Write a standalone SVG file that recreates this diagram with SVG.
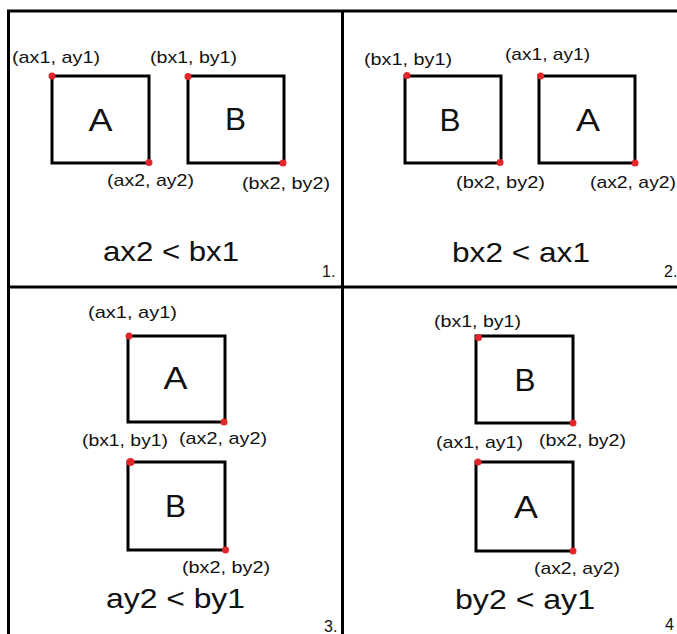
<svg xmlns="http://www.w3.org/2000/svg" width="677" height="634" viewBox="0 0 677 634">
<style>
.grid{stroke:#000;stroke-width:3;fill:none}
.box{stroke:#000;stroke-width:3;fill:none}
.dot{fill:#e3262b}
text{font-family:"Liberation Sans",Arial,sans-serif;fill:#111}
.lbl{font-size:17px}
.big{font-size:28px}
.let{font-size:31px;text-anchor:middle}
.num{font-size:16px}
</style>
<rect width="677" height="634" fill="#fff"/>
<g id="grid">
<line class="grid" x1="7" y1="11" x2="677" y2="11"/>
<line class="grid" x1="8.5" y1="10" x2="8.5" y2="634"/>
<line class="grid" x1="7" y1="287" x2="677" y2="287"/>
<line class="grid" x1="342.5" y1="10" x2="342.5" y2="634"/>
</g>
<g id="connectors"></g>

<!-- Panel 1 -->
<g id="p1-A">
<rect class="box" x="52" y="76" width="97" height="87"/>
<text class="let" x="100.5" y="131" textLength="24" lengthAdjust="spacingAndGlyphs">A</text>
<circle class="dot" cx="52" cy="76" r="3.5"/><circle class="dot" cx="149" cy="162.5" r="3.5"/>
<text class="lbl" x="12" y="63" textLength="88" lengthAdjust="spacingAndGlyphs">(ax1, ay1)</text>
<text class="lbl" x="107" y="186" textLength="87" lengthAdjust="spacingAndGlyphs">(ax2, ay2)</text>
</g>
<g id="p1-B">
<rect class="box" x="188" y="76" width="96" height="87"/>
<text class="let" x="235.5" y="130" textLength="21" lengthAdjust="spacingAndGlyphs">B</text>
<circle class="dot" cx="188" cy="76.5" r="3.5"/><circle class="dot" cx="283" cy="163" r="3.5"/>
<text class="lbl" x="150" y="63" textLength="87" lengthAdjust="spacingAndGlyphs">(bx1, by1)</text>
<text class="lbl" x="242" y="189" textLength="88" lengthAdjust="spacingAndGlyphs">(bx2, by2)</text>
</g>
<g id="p1-caption">
<text class="big" x="103" y="261" textLength="136" lengthAdjust="spacingAndGlyphs">ax2 &lt; bx1</text>
<text class="num" x="322" y="277">1.</text>
</g>

<!-- Panel 2 -->
<g id="p2-B">
<rect class="box" x="405" y="76" width="96" height="87"/>
<text class="let" x="450" y="131" textLength="21" lengthAdjust="spacingAndGlyphs">B</text>
<circle class="dot" cx="407" cy="75.5" r="3.5"/><circle class="dot" cx="500" cy="162.5" r="3.5"/>
<text class="lbl" x="364" y="65" textLength="88" lengthAdjust="spacingAndGlyphs">(bx1, by1)</text>
<text class="lbl" x="456" y="188" textLength="89" lengthAdjust="spacingAndGlyphs">(bx2, by2)</text>
</g>
<g id="p2-A">
<rect class="box" x="539" y="76" width="96" height="87"/>
<text class="let" x="588" y="131" textLength="24" lengthAdjust="spacingAndGlyphs">A</text>
<circle class="dot" cx="540.5" cy="76" r="3.5"/><circle class="dot" cx="635" cy="163" r="3.5"/>
<text class="lbl" x="505" y="60" textLength="85" lengthAdjust="spacingAndGlyphs">(ax1, ay1)</text>
<text class="lbl" x="590" y="188" textLength="86" lengthAdjust="spacingAndGlyphs">(ax2, ay2)</text>
</g>
<g id="p2-caption">
<text class="big" x="452" y="262" textLength="138" lengthAdjust="spacingAndGlyphs">bx2 &lt; ax1</text>
<text class="num" x="664" y="277">2.</text>
</g>

<!-- Panel 3 -->
<g id="p3-A">
<rect class="box" x="128" y="336" width="97" height="86"/>
<text class="let" x="175.5" y="389" textLength="24" lengthAdjust="spacingAndGlyphs">A</text>
<circle class="dot" cx="129" cy="336" r="3.5"/><circle class="dot" cx="224" cy="422" r="3.5"/>
<text class="lbl" x="88" y="318" textLength="89" lengthAdjust="spacingAndGlyphs">(ax1, ay1)</text>
<text class="lbl" x="179" y="444" textLength="88" lengthAdjust="spacingAndGlyphs">(ax2, ay2)</text>
</g>
<g id="p3-B">
<rect class="box" x="128" y="462" width="97" height="88"/>
<text class="let" x="175.5" y="517" textLength="21" lengthAdjust="spacingAndGlyphs">B</text>
<circle class="dot" cx="130.5" cy="462" r="4"/><circle class="dot" cx="225.5" cy="550" r="3.5"/>
<text class="lbl" x="82" y="446" textLength="86" lengthAdjust="spacingAndGlyphs">(bx1, by1)</text>
<text class="lbl" x="182" y="573" textLength="88" lengthAdjust="spacingAndGlyphs">(bx2, by2)</text>
</g>
<g id="p3-caption">
<text class="big" x="106" y="608" textLength="139" lengthAdjust="spacingAndGlyphs">ay2 &lt; by1</text>
<text class="num" x="324" y="632">3.</text>
</g>

<!-- Panel 4 -->
<g id="p4-B">
<rect class="box" x="476" y="336" width="97" height="87"/>
<text class="let" x="525" y="391" textLength="21" lengthAdjust="spacingAndGlyphs">B</text>
<circle class="dot" cx="478.5" cy="337.5" r="3.5"/><circle class="dot" cx="573" cy="423" r="3.5"/>
<text class="lbl" x="434" y="327" textLength="87" lengthAdjust="spacingAndGlyphs">(bx1, by1)</text>
<text class="lbl" x="539" y="446" textLength="87" lengthAdjust="spacingAndGlyphs">(bx2, by2)</text>
</g>
<g id="p4-A">
<rect class="box" x="476" y="462" width="97" height="89"/>
<text class="let" x="526" y="518" textLength="24" lengthAdjust="spacingAndGlyphs">A</text>
<circle class="dot" cx="478" cy="462" r="3.5"/><circle class="dot" cx="573" cy="551" r="3.5"/>
<text class="lbl" x="436" y="448" textLength="87" lengthAdjust="spacingAndGlyphs">(ax1, ay1)</text>
<text class="lbl" x="534" y="574" textLength="86" lengthAdjust="spacingAndGlyphs">(ax2, ay2)</text>
</g>
<g id="p4-caption">
<text class="big" x="455" y="609" textLength="140" lengthAdjust="spacingAndGlyphs">by2 &lt; ay1</text>
<text class="num" x="665" y="630">4</text>
</g>
</svg>
